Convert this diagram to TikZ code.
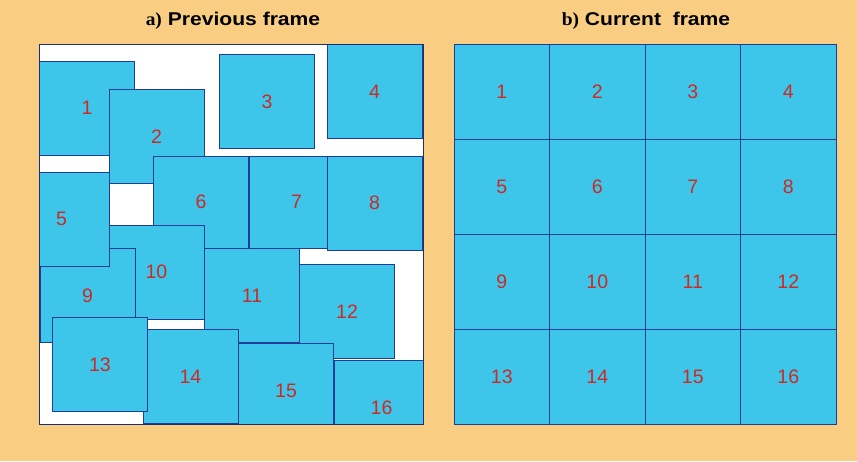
\documentclass[tikz,border=0pt]{standalone}
\usepackage{fontspec}
\setmainfont{Liberation Sans}
\newfontfamily\titlefont[FakeStretch=1.14]{Liberation Sans}
\newfontfamily\titleserif[FakeStretch=1.05]{Liberation Serif}
\usetikzlibrary{positioning}

\definecolor{bgorange}{HTML}{F9CE82}
\definecolor{blkcyan}{HTML}{3EC6EA}
\definecolor{blkline}{HTML}{1F3C96}
\definecolor{lblred}{HTML}{CC2A22}

\begin{document}
\begin{tikzpicture}[
  x=1pt, y=-1pt,
  blk/.style={draw=blkline, line width=0.8pt, fill=blkcyan, text=lblred,
    inner sep=0pt, outer sep=0pt, minimum width=95pt, minimum height=94pt,
    font=\fontsize{19.5}{20}\selectfont},
  cell/.style={blk, minimum width=95.5pt, minimum height=95pt},
  framebox/.style={draw=blkline!80!black, line width=0.8pt, inner sep=0pt, outer sep=0pt,
    minimum width=384pt, minimum height=380pt},
  title/.style={font=\titlefont\bfseries\fontsize{18.5}{20}\selectfont, inner sep=0pt}
]
  \useasboundingbox[fill=bgorange] (0,0) rectangle (857,461);

  % Previous frame
  \node[title] (prevtitle) at (233,21) {{\titleserif a)} Previous frame};
  \node[framebox, fill=white] (prevframe) at (231,234) {};
  \begin{scope}
    \clip (prevframe.south west) rectangle (prevframe.north east);
    \node[blk] (p1) at (87,108) {1};
    \node[blk] (p2) at (156.5,136.5) {2};
    \node[blk, line width=1.1pt] (p3) at (267,101.5) {3};
    \node[blk] (p4) at (374.5,91.5) {4};
    \node[blk, minimum height=92pt] (p6) at (201,202) {6};
    \node[blk, minimum height=92pt] (p7) at (296.5,202) {7};
    \node[blk] (p8) at (374.5,203) {8};
    \node[blk] (p10) at (156.5,272) {10};
    \node[blk] (p9) at (87.5,295.5) {9};
    \node[blk] (p5) at (61.5,219) {5};
    \node[blk] (p11) at (252,295.5) {11};
    \node[blk] (p12) at (347,311.5) {12};
    \node[blk] (p14) at (190.5,376.5) {14};
    \node[blk] (p13) at (100,364.5) {13};
    \node[blk] (p15) at (286,390.5) {15};
    \node[blk] (p16) at (381.5,407.5) {16};
  \end{scope}
  \draw[blkline!80!black, line width=0.8pt] (prevframe.south west) rectangle (prevframe.north east);

  % Current frame
  \node[title] (curtitle) at (646,21) {{\titleserif b)} Current~~frame};
  \node[framebox, minimum width=382pt] (curframe) at (645,234) {};
  \foreach \r in {0,...,3}
    \foreach \c in {0,...,3}{
      \pgfmathtruncatemacro\n{4*\r+\c+1}
      \node[cell] (c\n) at ({501.75+95.5*\c},{91.5+95*\r}) {\n};
    }
  \draw[blkline, line width=0.8pt] (curframe.south west) rectangle (curframe.north east);
\end{tikzpicture}
\end{document}
